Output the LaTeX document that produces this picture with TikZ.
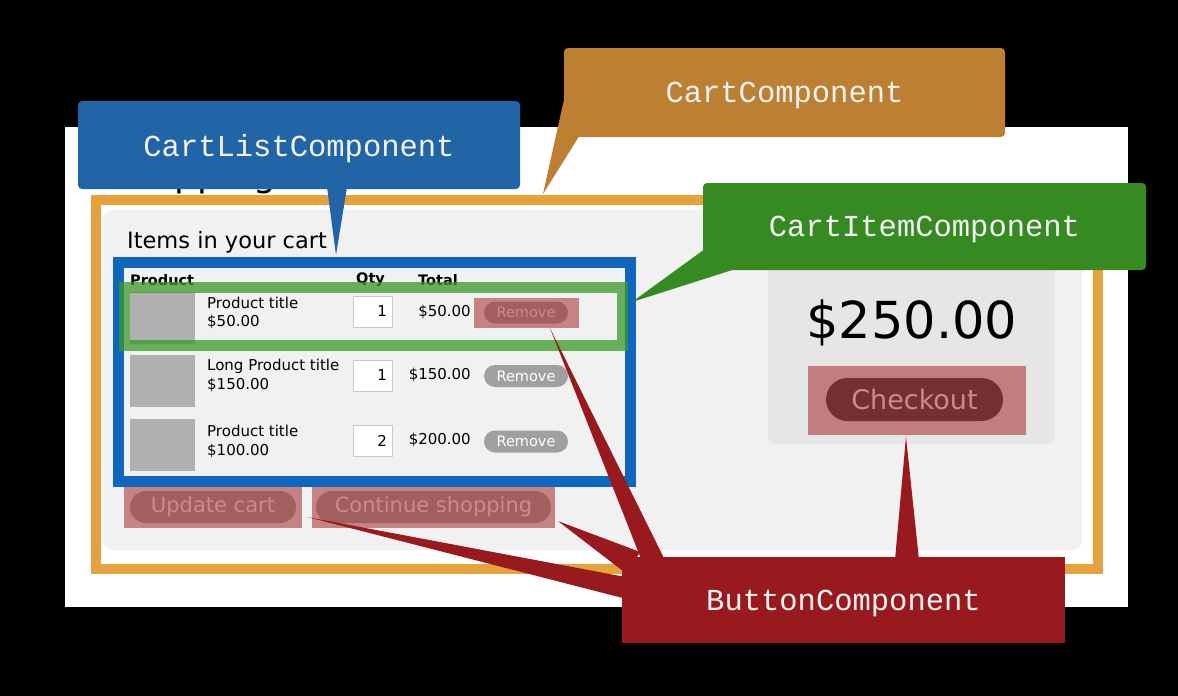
\documentclass[tikz,border=0pt]{standalone}
\usepackage{fontspec}
\setmainfont{DejaVu Sans}
\newfontfamily\codefont{Liberation Mono}
\usepackage{tikz}
\usetikzlibrary{calc}
\definecolor{FrameOrange}{RGB}{229,162,62}
\definecolor{PanelGray}  {RGB}{241,241,241}
\definecolor{TotalGray}  {RGB}{230,230,230}
\definecolor{FrameBlue}  {RGB}{14,102,190}
\definecolor{FrameGreen} {RGB}{58,154,42}
\definecolor{HlRed}      {RGB}{165,42,42}
\definecolor{PillGray}   {RGB}{160,160,160}
\definecolor{ChkGray}    {RGB}{56,56,56}
\definecolor{ImgGray}    {RGB}{176,176,176}
\definecolor{QtyLine}    {RGB}{200,200,200}
\definecolor{CallBlue}   {RGB}{33,101,166}
\definecolor{CallOrange} {RGB}{189,127,50}
\definecolor{CallGreen}  {RGB}{54,138,34}
\definecolor{CallRed}    {RGB}{153,26,30}
\definecolor{CallText}   {RGB}{242,242,242}
\newcommand{\fsz}[1]{\fontsize{#1}{#1}\selectfont}
\tikzset{
  nd_call/.style={rectangle,rounded corners=4pt,inner sep=0pt,text depth=0pt,text=CallText,font=\codefont\fsz{30.5}},
  nd_img/.style={rectangle,fill=ImgGray,minimum width=65pt,minimum height=52pt,inner sep=0pt},
  nd_txt/.style={anchor=west,inner sep=0pt,font=\fsz{15}},
  nd_hdr/.style={anchor=west,inner sep=0pt,font=\bfseries\fsz{14.5}},
  nd_qty/.style={rectangle,draw=QtyLine,fill=white,text width=29pt,align=right,minimum height=31pt,inner xsep=5pt,inner ysep=0pt,font=\fsz{15}},
  nd_tot/.style={anchor=east,inner sep=0pt,font=\fsz{15}},
  nd_pill/.style={rectangle,rounded corners=11pt,fill=PillGray,text=white,minimum width=84pt,minimum height=22pt,inner sep=0pt,font=\fsz{14.5}},
  nd_btn/.style={rectangle,rounded corners=16pt,fill=PillGray,text=white,minimum height=32pt,inner sep=0pt,font=\fsz{21}},
  nd_hl/.style={rectangle,fill=HlRed,fill opacity=0.55,inner sep=0pt},
}

\begin{document}
\begin{tikzpicture}[x=1pt,y=-1pt]
\useasboundingbox (0,0) rectangle (1178,696);
\fill[black](0,0) rectangle (1178,696);
% page
\fill[white](65,127) rectangle (1128,607);
\node[anchor=base west,inner sep=0pt,font=\fsz{36}] at (107,186)(Title){Shopping cart};
\draw[FrameOrange,line width=10pt](96,200) rectangle (1098,569);
\fill[PanelGray,rounded corners=10pt](103,210) rectangle (1082,550);
\node[anchor=west,inner sep=0pt,font=\fsz{22.5}] at (127,242)(Items){Items in your cart};
% header
\node[nd_hdr] at (130,280)(HP){Product};
\node[nd_hdr] at (356,280)(HQ){Qty};
\node[nd_hdr] at (418,280)(HT){Total};
% Row 1
\node[nd_img]  at (162.5,318)(Img1){};
\node[nd_txt]  at (207,303)(Ttl1){Product title};
\node[nd_txt]  at (207,322)(Prc1){\$50.00};
\node[nd_qty]  at (372.5,311.5)(Qty1){1};
\node[nd_tot]  at (471,312)(Tot1){\$50.00};
\node[nd_pill] at (526,312.5)(Rem1){Remove};
% Row 2
\node[nd_img]  at (162.5,381)(Img2){};
\node[nd_txt]  at (207,366)(Ttl2){Long Product title};
\node[nd_txt]  at (207,385)(Prc2){\$150.00};
\node[nd_qty]  at (372.5,375.5)(Qty2){1};
\node[nd_tot]  at (471,375)(Tot2){\$150.00};
\node[nd_pill] at (526,376)(Rem2){Remove};
% Row 3
\node[nd_img]  at (162.5,444.5)(Img3){};
\node[nd_txt]  at (207,431)(Ttl3){Product title};
\node[nd_txt]  at (207,451)(Prc3){\$100.00};
\node[nd_qty]  at (372.5,440.5)(Qty3){2};
\node[nd_tot]  at (471,440)(Tot3){\$200.00};
\node[nd_pill] at (526,441.5)(Rem3){Remove};
% frames
\draw[FrameBlue,line width=11pt](118,262.5) rectangle (630.5,481);
\draw[FrameGreen,draw opacity=0.75,line width=11pt](124,287.5) rectangle (622.5,345.5);
% buttons
\node[nd_btn,minimum width=166pt] at (213,507)(Upd){Update cart};
\node[nd_btn,minimum width=235pt] at (433.5,507)(Cont){Continue shopping};
% total
\fill[TotalGray,rounded corners=8pt](768,225) rectangle (1055,444);
\node[inner sep=0pt,font=\fsz{51}] at (912,323)(Sum){\$250.00};
\node[nd_btn,fill=ChkGray,rounded corners=21.5pt,minimum width=177pt,minimum height=43pt,font=\fsz{27}] at (914.5,399.5)(Chk){Checkout};
% highlights
\node[nd_hl,minimum width=105pt,minimum height=30pt] at (526.5,313)(HlRem){};
\node[nd_hl,minimum width=178pt,minimum height=41pt] at (213,507.5)(HlUpd){};
\node[nd_hl,minimum width=243pt,minimum height=41pt] at (433.5,507.5)(HlCont){};
\node[nd_hl,minimum width=218pt,minimum height=69pt] at (917,400.5)(HlChk){};
% callouts
\coordinate (tipList) at (336,255);
\coordinate (tipCart) at (543,194);
\coordinate (tipItem) at (632,302);
\node[nd_call,fill=CallBlue,minimum width=442pt,minimum height=88pt] at (299,145)(CL){CartListComponent};
\fill[CallBlue]([xshift=28pt,yshift=2pt]CL.south)--(tipList)--([xshift=48pt,yshift=2pt]CL.south)--cycle;
\node[nd_call,fill=CallOrange,minimum width=441pt,minimum height=89pt] at (784.5,92.5)(CO){CartComponent};
\fill[CallOrange]([yshift=-8pt]CO.west)--(tipCart)--([xshift=16pt,yshift=2pt]CO.south west)--cycle;
\node[nd_call,fill=CallGreen,minimum width=443pt,minimum height=87pt] at (924.5,226.5)(CI){CartItemComponent};
\fill[CallGreen]([yshift=-24pt]CI.west)--(tipItem)--([xshift=32pt,yshift=1pt]CI.south west)--cycle;
\node[nd_call,rounded corners=0pt,fill=CallRed,minimum width=443pt,minimum height=86pt] at (843.5,600)(CB){ButtonComponent};
\fill[CallRed]([xshift=22pt,yshift=-9pt]CB.north west)--([xshift=23.5pt]HlRem.south)--([xshift=46pt,yshift=-9pt]CB.north west)--cycle;
\fill[CallRed]([xshift=18pt,yshift=5pt]CB.north west)--([xshift=3pt,yshift=7pt]HlCont.south east)--([xshift=6pt,yshift=-18pt]CB.north west)--cycle;
\fill[CallRed]([xshift=8pt,yshift=-21pt]CB.north west)--([xshift=5pt,yshift=-9.5pt]HlUpd.east)--([xshift=8pt,yshift=-43pt]CB.north west)--cycle;
\fill[CallRed]([xshift=51.5pt,yshift=-3pt]CB.north)--([xshift=-11pt,yshift=-1.5pt]HlChk.south)--([xshift=75.5pt,yshift=-3pt]CB.north)--cycle;
\end{tikzpicture}
\end{document}
